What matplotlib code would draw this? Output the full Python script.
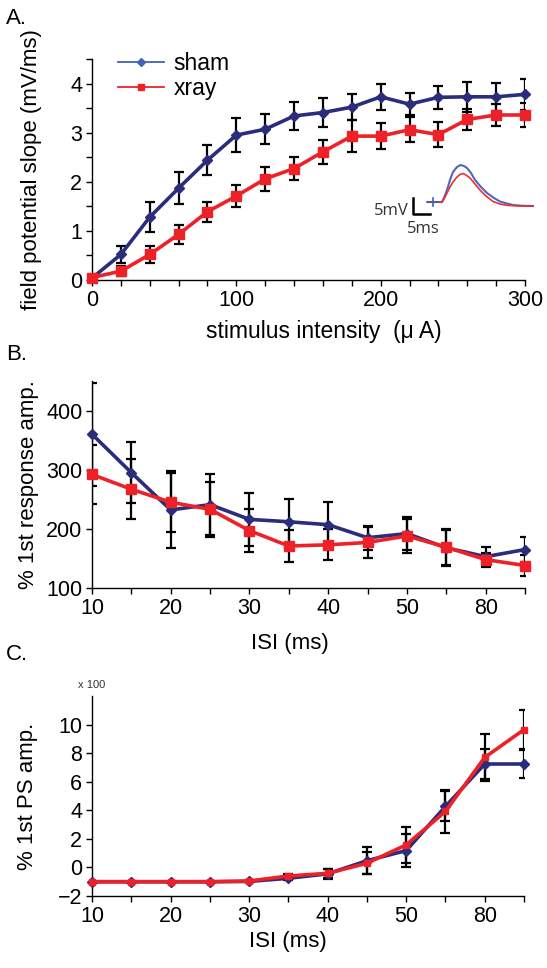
import matplotlib.pyplot as plt
import numpy as np
from matplotlib.lines import Line2D
from matplotlib.ticker import MultipleLocator

plt.rcParams["font.family"] = ["Liberation Sans", "DejaVu Sans"]

SHAM_COLOR = "#2A2C7C"
SHAM_LEGEND_COLOR = "#4065B4"
XRAY_COLOR = "#EE2128"

# Panel A: input/output curve
STIM_UA = [0, 20, 40, 60, 80, 100, 120, 140, 160, 180, 200, 220, 240, 260, 280, 300]
SLOPE_SHAM = [0.04, 0.52, 1.28, 1.87, 2.44, 2.95, 3.07, 3.34, 3.41, 3.52, 3.73, 3.58, 3.72, 3.73, 3.73, 3.78]
SLOPE_SHAM_ERR = [0.0, 0.18, 0.30, 0.32, 0.30, 0.34, 0.30, 0.28, 0.29, 0.27, 0.27, 0.22, 0.24, 0.30, 0.28, 0.32]
SLOPE_XRAY = [0.05, 0.18, 0.52, 0.93, 1.39, 1.71, 2.06, 2.27, 2.61, 2.93, 2.93, 3.06, 2.96, 3.27, 3.36, 3.36]
SLOPE_XRAY_ERR = [0.0, 0.10, 0.17, 0.20, 0.20, 0.23, 0.24, 0.24, 0.24, 0.32, 0.26, 0.26, 0.25, 0.22, 0.23, 0.25]

# inset trace (pixel units of the figure)
TRACE_X = [428, 442, 444, 447, 450, 453, 457, 460.5, 464, 467, 471, 475, 481, 487, 494, 500, 507, 513, 522, 533]
TRACE_SHAM_Y = [202, 202, 198, 190, 180, 172, 167, 165, 166, 168, 173, 180, 187, 193, 198, 201.5, 203.5, 205, 205.8, 206]
TRACE_X_RED = [428, 442, 444, 447, 450, 453, 457, 460, 463, 466, 470, 475, 480, 486, 493, 500, 507, 520, 533]
TRACE_XRAY_Y = [202, 202, 199, 193, 187, 182, 177, 174.5, 173.5, 175, 178, 184, 190, 196, 201.5, 204, 205.3, 206, 206]

# Panels B and C: paired pulse
ISI_LABELS = ["10", "", "20", "", "30", "", "40", "", "50", "", "80", ""]
PPF_SHAM = [360, 295, 232, 241, 216, 212, 207, 185, 192, 168, 153, 165]
PPF_SHAM_ERR = [87, 52, 65, 51, 45, 39, 38, 20, 28, 30, 16, 21]
PPF_XRAY = [292, 267, 245, 233, 197, 171, 173, 177, 188, 169, 148, 138]
PPF_XRAY_ERR = [50, 51, 50, 46, 36, 27, 26, 26, 28, 30, 12, 17]

PS_SHAM = [-1.0, -1.0, -1.0, -1.0, -0.98, -0.76, -0.45, 0.47, 1.18, 4.27, 7.24, 7.24]
PS_SHAM_ERR = [0, 0, 0, 0, 0, 0.12, 0.35, 0.95, 1.15, 1.05, 1.05, 0.97]
PS_XRAY = [-1.0, -1.0, -1.0, -1.0, -0.95, -0.60, -0.41, 0.29, 1.58, 3.92, 7.70, 9.65]
PS_XRAY_ERR = [0, 0, 0, 0, 0, 0.12, 0.30, 0.77, 1.27, 1.48, 1.67, 1.35]

W, H = 547, 968
LABEL_FS = 16
TICK_FS = 15.5


def px_axes(fig, x0, y0, x1, y1):
    return fig.add_axes([x0 / W, 1 - y1 / H, (x1 - x0) / W, (y1 - y0) / H])


def style_axis(ax):
    ax.spines["top"].set_visible(False)
    ax.spines["right"].set_visible(False)
    for side in ["left", "bottom"]:
        ax.spines[side].set_linewidth(1.0)
    ax.tick_params(which="both", direction="out", labelsize=TICK_FS, width=1.0, pad=3)
    ax.tick_params(which="major", length=4)
    ax.tick_params(which="minor", length=4)


def draw_series(ax, x, sham, sham_err, xray, xray_err, ms_d=7, ms_s=6.5):
    for y, err in [(sham, sham_err), (xray, xray_err)]:
        ax.errorbar(x, y, yerr=err, fmt="none", ecolor="black",
                    elinewidth=1.6, capsize=3.5, capthick=1.6, zorder=2)
    ax.plot(x, sham, color=SHAM_COLOR, lw=2.6, marker="D", ms=ms_d * 0.75,
            zorder=3, clip_on=False)
    ax.plot(x, xray, color=XRAY_COLOR, lw=2.6, marker="s", ms=ms_s,
            zorder=4, clip_on=False)


def label_x_at(ax, px_x, px_y, x0, x1, y0, y1):
    # place an axis label at a figure pixel position
    ax.xaxis.set_label_coords((px_x - x0) / (x1 - x0), (y1 - px_y) / (y1 - y0))


fig = plt.figure(figsize=(W / 100, H / 100), dpi=100)

# ---- A ----
A_BOX = (92, 59, 525, 280)
ax_a = px_axes(fig, *A_BOX)
draw_series(ax_a, STIM_UA, SLOPE_SHAM, SLOPE_SHAM_ERR, SLOPE_XRAY, SLOPE_XRAY_ERR)
ax_a.set_xlim(0, 300)
ax_a.set_ylim(0, 4.5)
ax_a.xaxis.set_major_locator(MultipleLocator(100))
ax_a.xaxis.set_minor_locator(MultipleLocator(20))
ax_a.yaxis.set_major_locator(MultipleLocator(1))
ax_a.yaxis.set_minor_locator(MultipleLocator(0.5))
style_axis(ax_a)
ax_a.set_xlabel("stimulus intensity  (\u03bc A)", fontsize=16.5, va="center")
label_x_at(ax_a, 324, 332, A_BOX[0], A_BOX[2], A_BOX[1], A_BOX[3])
ax_a.set_ylabel("field potential slope (mV/ms)", fontsize=LABEL_FS, labelpad=20)

handles = [
    Line2D([], [], color=SHAM_LEGEND_COLOR, lw=1.3, marker="D", ms=4),
    Line2D([], [], color=XRAY_COLOR, lw=1.3, marker="s", ms=4.5),
]
ax_a.legend(handles, ["sham", "xray"], loc="upper left", bbox_to_anchor=(0.04, 1.075),
            frameon=False, fontsize=16.5, handlelength=2.0, handletextpad=0.4,
            labelspacing=0.1, borderaxespad=0)

# inset trace
ax_in = px_axes(fig, 360, 150, 540, 240)
ax_in.set_xlim(360, 540)
ax_in.set_ylim(240, 150)
ax_in.axis("off")
ax_in.plot(TRACE_X, TRACE_SHAM_Y, color="#5068B8", lw=1.5)
ax_in.plot(TRACE_X_RED, TRACE_XRAY_Y, color="#E83038", lw=1.2)
ax_in.plot([432.7, 432.7], [198, 206], color="#4060B0", lw=1.2)
ax_in.plot([427, 438], [202, 202], color="#4060B0", lw=1.2)
ax_in.plot([412.7, 412.7, 430], [198, 214.3, 214.3], color="black", lw=1.8)
ax_in.text(409, 210.5, "5mV", ha="right", va="center", fontsize=12,
           family=["Open Sans", "DejaVu Sans"], color="#333333")
ax_in.text(423, 229, "5ms", ha="center", va="center", fontsize=12,
           family=["Open Sans", "DejaVu Sans"], color="#333333")

# ---- B ----
idx = np.arange(len(ISI_LABELS))
B_BOX = (92, 381, 525, 588)
ax_b = px_axes(fig, *B_BOX)
draw_series(ax_b, idx, PPF_SHAM, PPF_SHAM_ERR, PPF_XRAY, PPF_XRAY_ERR)
ax_b.set_xlim(0, len(ISI_LABELS) - 1)
ax_b.set_ylim(100, 450)
ax_b.set_xticks(idx)
ax_b.set_xticklabels(ISI_LABELS)
ax_b.set_yticks([100, 200, 300, 400])
style_axis(ax_b)
ax_b.set_xlabel("ISI (ms)", fontsize=LABEL_FS, va="center")
label_x_at(ax_b, 290, 643, B_BOX[0], B_BOX[2], B_BOX[1], B_BOX[3])
ax_b.set_ylabel("% 1st response amp.", fontsize=LABEL_FS, labelpad=5)

# ---- C ----
C_BOX = (92, 696, 524, 896)
ax_c = px_axes(fig, *C_BOX)
draw_series(ax_c, idx, PS_SHAM, PS_SHAM_ERR, PS_XRAY, PS_XRAY_ERR, ms_d=6.5, ms_s=4.5)
ax_c.set_xlim(0, len(ISI_LABELS) - 1)
ax_c.set_ylim(-2, 12)
ax_c.set_xticks(idx)
ax_c.set_xticklabels(ISI_LABELS)
ax_c.set_yticks([-2, 0, 2, 4, 6, 8, 10])
style_axis(ax_c)
ax_c.set_xlabel("ISI (ms)", fontsize=LABEL_FS, va="center")
label_x_at(ax_c, 288, 941, C_BOX[0], C_BOX[2], C_BOX[1], C_BOX[3])
ax_c.set_ylabel("% 1st PS amp.", fontsize=LABEL_FS, labelpad=14)
ax_c.annotate("x 100", xy=(0, 1), xycoords="axes fraction", xytext=(0, 4),
              textcoords="offset points", ha="center", va="bottom",
              fontsize=8, color="#333333")

# panel letters
for letter, ypx in [("A.", 18), ("B.", 355), ("C.", 655)]:
    fig.text(6 / W, 1 - ypx / H, letter, fontsize=16, ha="left", va="center")

fig.savefig("out.png", dpi=100)
